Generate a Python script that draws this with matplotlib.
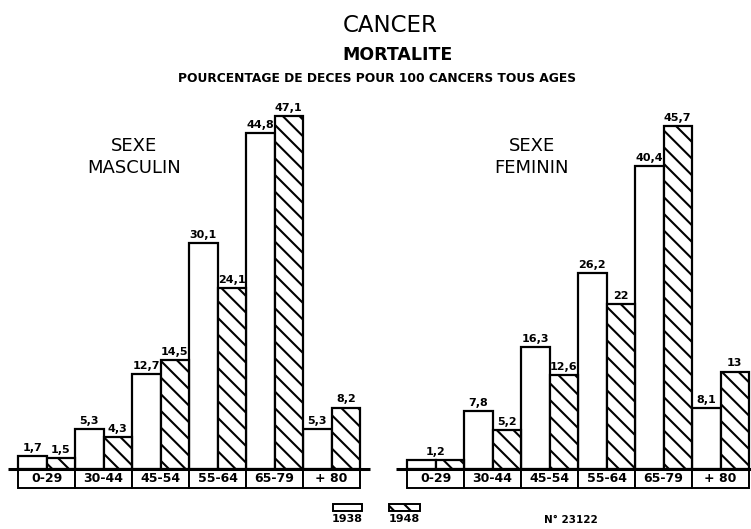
import matplotlib
matplotlib.use("Agg")
import matplotlib.pyplot as plt
from matplotlib.patches import Rectangle

plt.rcParams['font.family'] = ['DejaVu Sans']
plt.rcParams['hatch.linewidth'] = 1.5

# ---- data ----
age_groups = ["0-29", "30-44", "45-54", "55-64", "65-79", "+ 80"]
male_1938 = [1.7, 5.3, 12.7, 30.1, 44.8, 5.3]
male_1948 = [1.5, 4.3, 14.5, 24.1, 47.1, 8.2]
female_1938 = [1.2, 7.8, 16.3, 26.2, 40.4, 8.1]
female_1948 = [1.2, 5.2, 12.6, 22.0, 45.7, 13.0]
years = ["1938", "1948"]
panel_titles = ["SEXE\nMASCULIN", "SEXE\nFEMININ"]

W, H = 751, 529
fig = plt.figure(figsize=(W / 100, H / 100), dpi=100)

PX_X = 57.0     # px per group
PX_Y = 7.5      # px per percent
BASE_PX = 469   # baseline, px from top
HATCH = "\\\\"


def fmt(v):
    s = ("%.1f" % v).replace(".", ",")
    if s.endswith(",0"):
        s = s[:-2]
    return s


def panel(ax_left_px, ax_right_px, origin_px, line_from_px, line_to_px,
          v1, v2, title, title_x_px):
    ax = fig.add_axes([ax_left_px / W, 0, (ax_right_px - ax_left_px) / W, 1])
    ax.set_xlim((ax_left_px - origin_px) / PX_X, (ax_right_px - origin_px) / PX_X)
    ybot = (H - BASE_PX) / PX_Y
    ax.set_ylim(-ybot, BASE_PX / PX_Y)
    ax.axis("off")
    n = len(age_groups)
    xs = list(range(n))
    ax.bar([x + 0.25 for x in xs], v1, width=0.5, facecolor="white",
           edgecolor="black", linewidth=1.6, zorder=2)
    ax.bar([x + 0.75 for x in xs], v2, width=0.5, facecolor="white",
           edgecolor="black", linewidth=1.6, hatch=HATCH, zorder=2)
    for i in xs:
        if v1[i] == v2[i]:
            ax.text(i + 0.5, v1[i] + 0.4, fmt(v1[i]), ha="center", va="bottom",
                    fontsize=8, fontweight="bold")
        else:
            ax.text(i + 0.25, v1[i] + 0.4, fmt(v1[i]), ha="center", va="bottom",
                    fontsize=8, fontweight="bold")
            ax.text(i + 0.75, v2[i] + 0.4, fmt(v2[i]), ha="center", va="bottom",
                    fontsize=8, fontweight="bold")
        box_h = 19 / PX_Y
        ax.add_patch(Rectangle((i, -box_h), 1, box_h, facecolor="white",
                               edgecolor="black", linewidth=1.4, zorder=1))
        ax.text(i + 0.5, -box_h / 2, age_groups[i], ha="center", va="center",
                fontsize=9, fontweight="bold")
    ax.plot([(line_from_px - origin_px) / PX_X, (line_to_px - origin_px) / PX_X],
            [0, 0], color="black", linewidth=2.2, zorder=3,
            solid_capstyle="butt")
    fig.text(title_x_px / W, 1 - 157 / H, title, ha="center", va="center",
             fontsize=13, linespacing=1.25)
    return ax


panel(0, 376, 18, 8, 370, male_1938, male_1948, panel_titles[0], 134)
panel(376, 751, 407, 396, 751, female_1938, female_1948, panel_titles[1], 532)

# titles
fig.text(390 / W, 1 - 25 / H, "CANCER", ha="center", va="center", fontsize=16.5)
fig.text(397 / W, 1 - 55 / H, "MORTALITE", ha="center", va="center",
         fontsize=12.5, fontweight="bold")
fig.text(377 / W, 1 - 78 / H, "POURCENTAGE DE DECES POUR 100 CANCERS TOUS AGES",
         ha="center", va="center", fontsize=8.8, fontweight="bold")

# legend
for (x0, x1, hatch, lab) in [(333, 362, None, years[0]), (389, 420, HATCH, years[1])]:
    fig.patches.append(Rectangle((x0 / W, 1 - 511 / H), (x1 - x0) / W, 7 / H,
                                 transform=fig.transFigure, facecolor="white",
                                 edgecolor="black", linewidth=1.4, hatch=hatch))
    fig.text((x0 + x1) / 2 / W, 1 - 519 / H, lab, ha="center", va="center",
             fontsize=8, fontweight="bold")

fig.text(571 / W, 1 - 520 / H, "N° 23122", ha="center", va="center",
         fontsize=7.5, fontweight="bold")

fig.savefig("out.png", dpi=100, facecolor="white")
